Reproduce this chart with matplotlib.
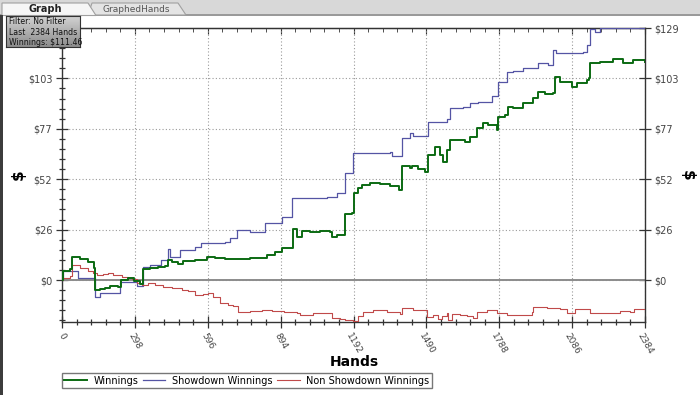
import matplotlib
matplotlib.use('Agg')
import numpy as np
import matplotlib.pyplot as plt
from matplotlib.patches import Rectangle, Polygon
from matplotlib.ticker import MultipleLocator
from matplotlib.colors import LinearSegmentedColormap

# ---- data (hands, dollars) ----
win_hands = [0, 4, 33, 41, 74, 106, 131, 135, 155, 176, 196, 229, 241, 270, 294, 319, 331,
             360, 393, 421, 434, 450, 474, 495, 515, 544, 564, 593, 626, 666, 728, 769, 838,
             871, 900, 945, 961, 981, 1014, 1055, 1096, 1104, 1124, 1157, 1186, 1192, 1210,
             1227, 1259, 1300, 1341, 1378, 1390, 1423, 1431, 1456, 1484, 1497, 1525, 1546,
             1558, 1574, 1587, 1619, 1648, 1668, 1697, 1722, 1742, 1779, 1783, 1811, 1824,
             1844, 1885, 1926, 1946, 1975, 2008, 2014, 2036, 2085, 2106, 2147, 2155, 2159,
             2200, 2253, 2294, 2335, 2384]
win_vals = [0, 4.6, 5.6, 11.8, 10.5, 9.2, 6.1, -5.1, -4.5, -4.1, -3.2, -3.6, 0.0, 1.0, -0.5,
            -2.0, 5.6, 6.2, 6.8, 7.2, 10.2, 9.0, 8.2, 9.5, 9.7, 10.3, 10.0, 12.0, 11.5, 11.0,
            10.7, 11.5, 12.8, 14.5, 16.4, 26.0, 22.0, 25.0, 24.5, 25.2, 24.7, 22.0, 23.0,
            34.0, 34.5, 44.4, 47.0, 48.5, 49.8, 49.0, 48.0, 46.0, 58.4, 57.2, 58.4, 57.0,
            55.5, 64.0, 68.3, 64.0, 60.6, 66.6, 71.7, 71.5, 70.8, 73.4, 77.7, 80.6, 79.4,
            76.8, 83.6, 84.5, 88.7, 88.0, 90.5, 93.0, 96.4, 95.2, 95.9, 103.8, 101.5, 99.0,
            100.7, 102.4, 103.3, 111.3, 111.8, 113.0, 111.3, 112.6, 111.5]

sd_hands = [0, 4, 65, 135, 155, 237, 307, 331, 360, 405, 434, 442, 483, 544, 568, 666, 687,
            716, 769, 830, 900, 940, 1083, 1124, 1157, 1190, 1341, 1349, 1390, 1423, 1435,
            1497, 1574, 1587, 1640, 1668, 1701, 1758, 1783, 1820, 1844, 1885, 1946, 1987,
            2008, 2022, 2130, 2147, 2159, 2179, 2200, 2384]
sd_vals = [0, 4.6, 1.2, -8.9, -6.8, -0.9, -2.9, 6.8, 7.9, 10.2, 15.7, 11.6, 15.4, 17.0,
           19.1, 19.6, 21.3, 25.6, 24.7, 29.0, 32.1, 41.8, 42.3, 44.4, 54.6, 65.2, 65.7,
           63.5, 72.5, 75.1, 73.7, 81.0, 82.3, 87.9, 88.7, 90.8, 91.3, 94.2, 101.6, 106.7,
           107.2, 108.4, 111.0, 110.0, 117.8, 116.0, 116.9, 120.3, 128.4, 127.2, 128.8, 128.6]

nsd_hands = [0, 4, 33, 41, 74, 106, 127, 143, 168, 188, 209, 245, 270, 286, 307, 327, 352,
             380, 413, 450, 491, 515, 544, 577, 597, 617, 646, 679, 699, 720, 769, 818, 859,
             908, 961, 973, 1026, 1084, 1104, 1137, 1157, 1190, 1210, 1231, 1272, 1329, 1382,
             1390, 1435, 1492, 1517, 1538, 1554, 1574, 1578, 1595, 1627, 1656, 1681, 1697,
             1738, 1779, 1820, 1873, 1922, 1926, 1983, 2036, 2065, 2098, 2159, 2229, 2282,
             2323, 2339, 2384]
nsd_vals = [0, 1.0, 2.0, 7.5, 6.0, 4.5, 3.4, 2.6, 3.0, 3.7, 2.6, 1.4, 1.0, 0.4, -1.4, -2.6,
            -1.5, -2.6, -3.5, -4.3, -5.1, -5.5, -7.7, -7.0, -6.8, -8.5, -11.9, -12.8, -13.5,
            -16.2, -16.0, -15.5, -15.9, -16.2, -17.1, -18.0, -16.7, -17.0, -19.6, -20.0,
            -20.5, -21.2, -18.5, -16.2, -15.4, -16.2, -17.4, -14.5, -15.4, -18.8, -18.0,
            -20.1, -18.5, -17.1, -20.5, -17.5, -17.9, -18.5, -19.6, -16.2, -15.4, -17.1,
            -17.9, -17.9, -16.5, -13.7, -14.5, -15.0, -16.7, -15.0, -16.7, -16.7, -15.7,
            -16.5, -15.0, -16.2]

x_ticks = [0, 298, 596, 894, 1192, 1490, 1788, 2086, 2384]
y_ticks = [0, 25.8, 51.6, 77.4, 103.2, 129]
y_labels = [r'\$0', r'\$26', r'\$52', r'\$77', r'\$103', r'\$129']

W, H = 700, 395
def fx(x):
    return x / W
def fy(y):
    return 1 - y / H

fig = plt.figure(figsize=(7, 3.95), dpi=100)
fig.patch.set_facecolor('white')

# window chrome: tab bar, left border
fig.patches.append(Rectangle((0, fy(15)), 1, 15 / H, transform=fig.transFigure,
                             facecolor='#d8d8d8', edgecolor='none', zorder=0))
fig.patches.append(Rectangle((0, fy(15.5)), 1, 1 / H, transform=fig.transFigure,
                             facecolor='#9a9a9a', edgecolor='none', zorder=1))
fig.patches.append(Polygon([(fx(186), fy(15)), (fx(178), fy(3)), (fx(92), fy(3)), (fx(88), fy(15))],
                           closed=True, transform=fig.transFigure, facecolor='#e4e4e4',
                           edgecolor='#a0a0a0', lw=0.8, zorder=1))
fig.patches.append(Polygon([(fx(96), fy(15.5)), (fx(88), fy(3)), (fx(2), fy(3)), (fx(2), fy(15.5))],
                           closed=True, transform=fig.transFigure, facecolor='#f6f6f6',
                           edgecolor='#a0a0a0', lw=0.8, zorder=2))
fig.patches.append(Rectangle((0, 0), 2.5 / W, fy(15), transform=fig.transFigure,
                             facecolor='#3c3c3c', edgecolor='none', zorder=2))
fig.text(fx(45), fy(9.5), 'Graph', fontsize=7, fontweight='bold', color='#222',
         ha='center', va='center')
fig.text(fx(136), fy(9.5), 'GraphedHands', fontsize=6.5, color='#555',
         ha='center', va='center')

# main axes
ax = fig.add_axes([fx(62), fy(322), (645 - 62) / W, (322 - 28) / H])
ax.plot(win_hands, win_vals, drawstyle='steps-post', color='#0b6a12', lw=1.4,
        label='Winnings', zorder=5)
ax.plot(sd_hands, sd_vals, drawstyle='steps-post', color='#5454a4', lw=0.9,
        label='Showdown Winnings', zorder=4)
ax.plot(nsd_hands, nsd_vals, drawstyle='steps-post', color='#c04a4a', lw=0.8,
        label='Non Showdown Winnings', zorder=4)
ax.axhline(0, color='#8c8c8c', lw=1.4, zorder=2)

ax.set_xlim(0, 2384)
ax.set_ylim(-21.5, 129)
ax.set_xticks(x_ticks)
ax.set_xticklabels([str(v) for v in x_ticks], rotation=-60, fontsize=6.5, color='#444',
                   ha='center', va='top')
ax.xaxis.set_minor_locator(MultipleLocator(298 / 5))
ax.set_yticks(y_ticks)
ax.set_yticklabels(y_labels, fontsize=7, color='#444')
ax.yaxis.set_minor_locator(MultipleLocator(129 / 25))
ax.tick_params(which='major', direction='inout', length=8, width=0.9, color='#333')
ax.tick_params(which='minor', direction='inout', length=4, width=0.9, color='#333')
ax.tick_params(axis='y', right=True, labelright=True, pad=3)
ax.tick_params(axis='x', pad=3)
# the left $129 label sits under the filter box in the screenshot
ax.yaxis.get_major_ticks()[-1].label1.set_visible(False)
for s in ax.spines.values():
    s.set_color('#333')
    s.set_linewidth(1)

top = ax.secondary_xaxis('top')
top.set_xticks(x_ticks)
top.xaxis.set_minor_locator(MultipleLocator(298 / 5))
top.tick_params(which='major', direction='in', length=4, color='#333', labeltop=False)
top.tick_params(which='minor', direction='in', length=3, color='#333', labeltop=False)
top.spines['top'].set_color('#333')

ax.grid(which='major', linestyle=(0, (1, 2)), color='#9a9a9a', lw=0.8)

fig.text(fx(354), fy(362), 'Hands', fontsize=10, fontweight='bold', ha='center', va='center')
fig.text(fx(18), fy(175), r'\$', fontsize=11, fontweight='bold', rotation=90,
         ha='center', va='center')
fig.text(fx(687), fy(175), r'\$', fontsize=11, fontweight='bold', rotation=-90,
         ha='center', va='center')

leg = ax.legend(loc='lower left', bbox_to_anchor=(fx(62), fy(388), 370 / W, 16 / H),
                bbox_transform=fig.transFigure, ncol=3, mode='expand', frameon=True,
                fancybox=False, edgecolor='#555', fontsize=7, handlelength=2.3,
                borderpad=0.25, borderaxespad=0, handletextpad=0.7, columnspacing=1.0)
leg.get_frame().set_linewidth(1.0)

# filter info box
cmap = LinearSegmentedColormap.from_list('box', ['#8c8c8c', '#d2d2d2'])
bx = fig.add_axes([fx(6), fy(47), 74 / W, 31 / H], zorder=10)
bx.imshow(np.linspace(0, 1, 60).reshape(-1, 1), cmap=cmap, aspect='auto',
          extent=[0, 1, 0, 1], origin='lower')
bx.set_xticks([])
bx.set_yticks([])
for s in bx.spines.values():
    s.set_color('#333')
bx.text(0.04, 0.82, 'Filter: No Filter', fontsize=5.6, color='#111', va='center')
bx.text(0.04, 0.48, 'Last  2384 Hands', fontsize=5.6, color='#111', va='center')
bx.text(0.04, 0.15, r'Winnings: \$111.46', fontsize=5.6, color='#111', va='center')

fig.savefig('out.png', dpi=100)
